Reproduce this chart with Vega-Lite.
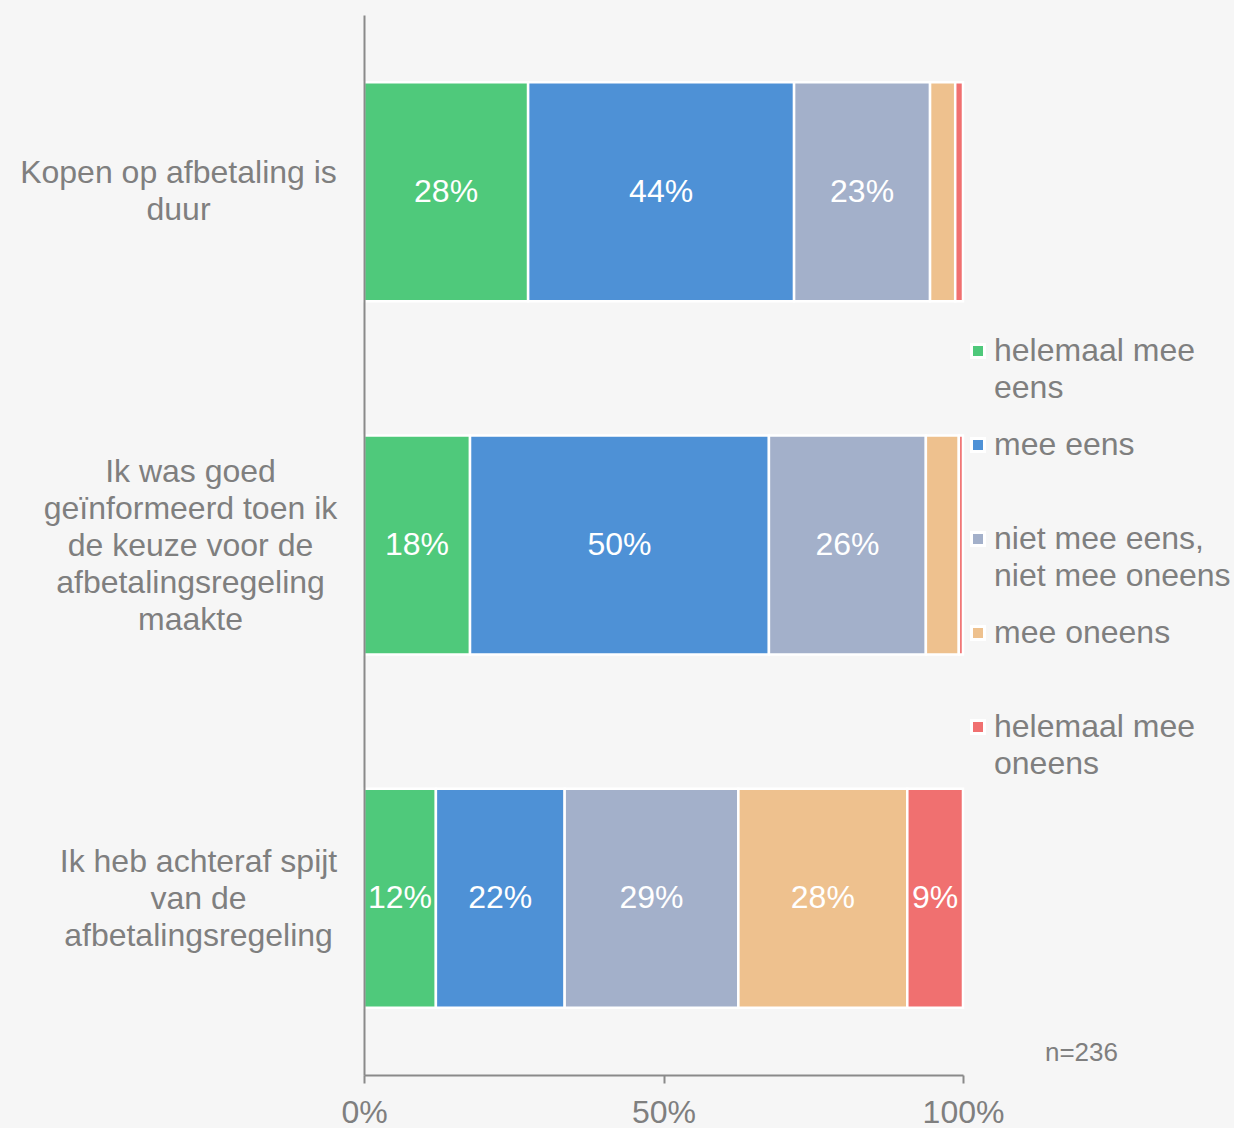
{
  "$schema": "https://vega.github.io/schema/vega-lite/v6.json",
  "width": 599,
  "height": 1060,
  "autosize": {"type": "none"},
  "padding": {"left": 364, "top": 15, "right": 271, "bottom": 53},
  "background": "#f6f6f6",
  "config": {
    "view": {"stroke": null},
    "font": "Liberation Sans",
    "title": {"font": "Liberation Sans", "fontWeight": "normal"},
    "style": {"guide-label": {"lineHeight": 37}}
  },
  "title": {
    "text": "n=236",
    "orient": "bottom",
    "anchor": "end",
    "frame": "group",
    "fontSize": 26,
    "color": "#7f7f7f",
    "dx": 155,
    "dy": -92
  },
  "data": {
    "values": [
      {"q": "Kopen op afbetaling is|duur", "cat": "helemaal mee eens", "o": 1, "v": 27.4, "lab": "28%"},
      {"q": "Kopen op afbetaling is|duur", "cat": "mee eens", "o": 2, "v": 44.4, "lab": "44%"},
      {"q": "Kopen op afbetaling is|duur", "cat": "niet mee eens, niet mee oneens", "o": 3, "v": 22.7, "lab": "23%"},
      {"q": "Kopen op afbetaling is|duur", "cat": "mee oneens", "o": 4, "v": 4.2, "lab": ""},
      {"q": "Kopen op afbetaling is|duur", "cat": "helemaal mee oneens", "o": 5, "v": 1.3, "lab": ""},
      {"q": "Ik was goed|geïnformeerd toen ik|de keuze voor de|afbetalingsregeling|maakte", "cat": "helemaal mee eens", "o": 1, "v": 17.7, "lab": "18%"},
      {"q": "Ik was goed|geïnformeerd toen ik|de keuze voor de|afbetalingsregeling|maakte", "cat": "mee eens", "o": 2, "v": 49.9, "lab": "50%"},
      {"q": "Ik was goed|geïnformeerd toen ik|de keuze voor de|afbetalingsregeling|maakte", "cat": "niet mee eens, niet mee oneens", "o": 3, "v": 26.2, "lab": "26%"},
      {"q": "Ik was goed|geïnformeerd toen ik|de keuze voor de|afbetalingsregeling|maakte", "cat": "mee oneens", "o": 4, "v": 5.5, "lab": ""},
      {"q": "Ik was goed|geïnformeerd toen ik|de keuze voor de|afbetalingsregeling|maakte", "cat": "helemaal mee oneens", "o": 5, "v": 0.7, "lab": ""},
      {"q": "Ik heb achteraf spijt|van de|afbetalingsregeling", "cat": "helemaal mee eens", "o": 1, "v": 12.0, "lab": "12%"},
      {"q": "Ik heb achteraf spijt|van de|afbetalingsregeling", "cat": "mee eens", "o": 2, "v": 21.5, "lab": "22%"},
      {"q": "Ik heb achteraf spijt|van de|afbetalingsregeling", "cat": "niet mee eens, niet mee oneens", "o": 3, "v": 29.0, "lab": "29%"},
      {"q": "Ik heb achteraf spijt|van de|afbetalingsregeling", "cat": "mee oneens", "o": 4, "v": 28.2, "lab": "28%"},
      {"q": "Ik heb achteraf spijt|van de|afbetalingsregeling", "cat": "helemaal mee oneens", "o": 5, "v": 9.3, "lab": "9%"}
    ]
  },
  "transform": [
    {"stack": "v", "groupby": ["q"], "sort": [{"field": "o", "order": "ascending"}], "as": ["x0", "x1"]},
    {"calculate": "(datum.x0 + datum.x1) / 2", "as": "xm"}
  ],
  "encoding": {
    "y": {
      "field": "q",
      "type": "nominal",
      "sort": null,
      "scale": {"paddingInner": 0.38, "paddingOuter": 0.19},
      "axis": {
        "title": null,
        "ticks": false,
        "domain": true,
        "zindex": 1,
        "domainColor": "#8a8a8a",
        "domainWidth": 2,
        "labelExpr": "split(datum.label, '|')",
        "labelAlign": "center",
        "labelBaseline": "middle",
        "labelPadding": {
          "condition": [
            {"test": "indexof(datum.value, 'Kopen') == 0", "value": 186},
            {"test": "indexof(datum.value, 'Ik was') == 0", "value": 174}
          ],
          "value": 166
        },
        "labelOffset": {
          "condition": [
            {"test": "indexof(datum.value, 'Kopen') == 0", "value": -19},
            {"test": "indexof(datum.value, 'Ik was') == 0", "value": -73}
          ],
          "value": -36
        },
        "labelFontSize": 32,
        "labelLineHeight": 37,
        "labelColor": "#7f7f7f",
        "labelLimit": 400
      }
    }
  },
  "layer": [
    {
      "mark": {"type": "bar", "stroke": "white", "strokeWidth": 2.5},
      "encoding": {
        "x": {
          "field": "x0",
          "type": "quantitative",
          "scale": {"domain": [0, 100], "nice": false},
          "axis": {
            "title": null,
            "values": [0, 50, 100],
            "labelExpr": "datum.value + '%'",
            "labelFlush": false,
            "grid": false,
            "zindex": 1,
            "domainColor": "#8a8a8a",
            "domainWidth": 2,
            "tickColor": "#8a8a8a",
            "tickWidth": 2,
            "tickSize": 8,
            "labelFontSize": 32,
            "labelColor": "#7f7f7f",
            "labelPadding": 14
          }
        },
        "x2": {"field": "x1"},
        "color": {
          "field": "cat",
          "type": "nominal",
          "sort": ["helemaal mee eens", "mee eens", "niet mee eens, niet mee oneens", "mee oneens", "helemaal mee oneens"],
          "scale": {
            "domain": ["helemaal mee eens", "mee eens", "niet mee eens, niet mee oneens", "mee oneens", "helemaal mee oneens"],
            "range": ["#4fc97b", "#4e91d6", "#a3b0ca", "#eec18e", "#f07070"]
          },
          "legend": {
            "title": null,
            "orient": "none",
            "legendX": 598,
            "legendY": 320,
            "symbolType": "square",
            "symbolSize": 169,
            "symbolStrokeColor": "white",
            "symbolStrokeWidth": 3,
            "symbolOpacity": 1,
            "labelFontSize": 32,
            "labelColor": "#7f7f7f",
            "labelLimit": 400,
            "labelOffset": 0,
            "rowPadding": 25,
            "labelExpr": "{'helemaal mee eens': ['helemaal mee', 'eens'], 'mee eens': ['mee eens', ''], 'niet mee eens, niet mee oneens': ['niet mee eens,', 'niet mee oneens'], 'mee oneens': ['mee oneens', ''], 'helemaal mee oneens': ['helemaal mee', 'oneens']}[datum.label]"
          }
        }
      }
    },
    {
      "mark": {"type": "text", "color": "white", "fontSize": 32, "align": "center", "baseline": "middle"},
      "encoding": {
        "x": {"field": "xm", "type": "quantitative"},
        "text": {"field": "lab"}
      }
    }
  ]
}
